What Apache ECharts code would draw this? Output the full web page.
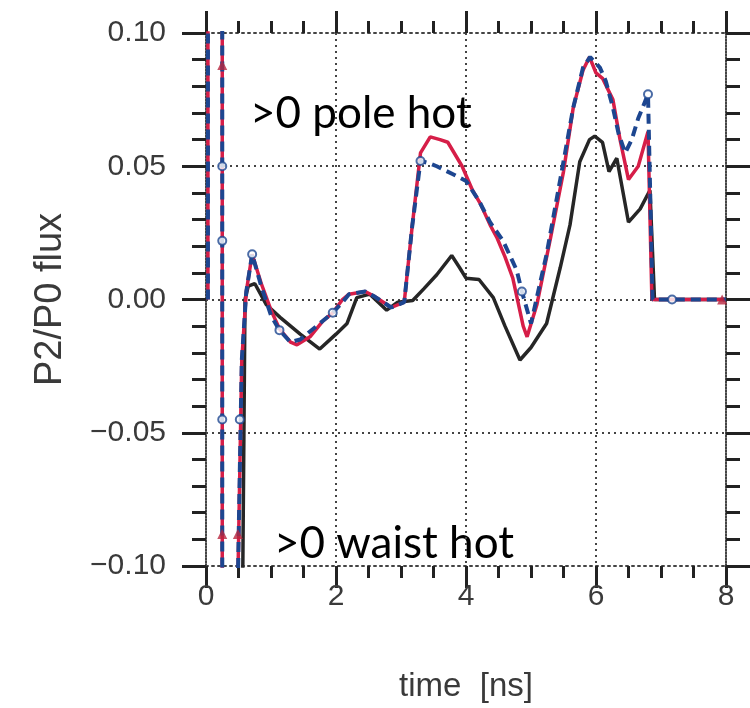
<!DOCTYPE html>
<html>
<head>
    <meta charset="utf-8">
    <title></title>
    <style type="text/css">
        body { margin: 0; background: #fff; }
    </style>
</head>
<body>
<div id="main" style="width: 750px;height:708px;"></div>

<script type="text/javascript" src="https://cdn.jsdelivr.net/npm/echarts@6/dist/echarts.min.js"></script>
<script type="text/javascript">
    // time [ns] and P2/P0 flux, one pair of lists per curve
    var redT = [0.03, 0.03, 0.25, 0.25, 0.48, 0.55, 0.62, 0.71, 0.85, 1.0, 1.13, 1.3, 1.4, 1.6, 1.8, 1.95, 2.1, 2.2, 2.45, 2.6, 2.85, 3.05, 3.17, 3.3, 3.45, 3.6, 3.72, 3.94, 4.1, 4.22, 4.37, 4.48, 4.6, 4.72, 4.88, 4.94, 5.09, 5.3, 5.5, 5.65, 5.8, 5.9, 6.0, 6.1, 6.26, 6.37, 6.5, 6.65, 6.8, 6.86, 8.0];
    var redV = [0.0, 0.12, 0.12, -0.12, -0.12, -0.023, 0.003, 0.017, 0.006, -0.004, -0.011, -0.016, -0.017, -0.014, -0.008, -0.005, 0.0, 0.002, 0.003, 0.001, -0.003, -0.001, 0.027, 0.055, 0.061, 0.060, 0.059, 0.050, 0.041, 0.036, 0.028, 0.023, 0.016, 0.008, -0.010, -0.014, -0.002, 0.023, 0.048, 0.072, 0.086, 0.091, 0.085, 0.083, 0.075, 0.060, 0.045, 0.050, 0.063, 0.0, 0.0];

    var blueT = [0.03, 0.03, 0.25, 0.25, 0.48, 0.55, 0.62, 0.71, 0.85, 1.0, 1.13, 1.3, 1.45, 1.6, 1.8, 1.95, 2.1, 2.2, 2.45, 2.6, 2.85, 3.05, 3.17, 3.3, 3.45, 3.55, 3.8, 4.0, 4.2, 4.37, 4.57, 4.78, 4.86, 5.0, 5.24, 5.45, 5.65, 5.8, 5.91, 6.06, 6.15, 6.26, 6.35, 6.45, 6.55, 6.65, 6.8, 6.87, 8.0];
    var blueV = [0.0, 0.12, 0.12, -0.12, -0.12, -0.023, 0.003, 0.017, 0.005, -0.006, -0.0115, -0.016, -0.015, -0.012, -0.008, -0.005, -0.001, 0.002, 0.003, 0.001, -0.003, -0.001, 0.027, 0.052, 0.051, 0.050, 0.047, 0.0445, 0.037, 0.029, 0.022, 0.011, 0.003, -0.009, 0.017, 0.045, 0.072, 0.087, 0.091, 0.087, 0.082, 0.072, 0.062, 0.055, 0.060, 0.068, 0.077, 0.0, 0.0];

    var blackT = [0.56, 0.6, 0.65, 0.75, 0.93, 1.14, 1.45, 1.75, 2.0, 2.17, 2.32, 2.52, 2.65, 2.78, 2.95, 3.18, 3.35, 3.55, 3.78, 3.9, 4.0, 4.2, 4.42, 4.6, 4.83, 5.0, 5.24, 5.45, 5.6, 5.75, 5.9, 5.98, 6.1, 6.2, 6.32, 6.5, 6.68, 6.83, 6.9, 8.0];
    var blackV = [-0.12, 0.0, 0.005, 0.006, -0.002, -0.0067, -0.013, -0.0186, -0.013, -0.009, 0.0007, 0.002, -0.001, -0.004, -0.001, -0.0004, 0.004, 0.0093, 0.0165, 0.012, 0.008, 0.0075, 0.0007, -0.010, -0.0227, -0.018, -0.009, 0.012, 0.028, 0.0517, 0.060, 0.0613, 0.059, 0.048, 0.053, 0.029, 0.034, 0.041, 0.0, 0.0];

    // plot markers seen on the curves
    var redMarkT = [0.25, 0.25, 0.49, 7.94];
    var redMarkV = [0.088, -0.088, -0.088, 0.0];
    var blueMarkT = [0.25, 0.25, 0.25, 0.52, 0.71, 1.13, 1.95, 3.3, 4.86, 6.8, 7.17];
    var blueMarkV = [0.05, 0.022, -0.045, -0.045, 0.017, -0.0115, -0.005, 0.052, 0.003, 0.077, 0.0];

    var xTicks = [0, 8, 2];          // min, max, step
    var yTicks = [-0.10, 0.10, 0.05];

    function pairs(t, v) {
        var out = [];
        for (var i = 0; i < t.length; i++) out.push([t[i], v[i]]);
        return out;
    }

    var dotted = { color: '#444', width: 2, type: [2, 4] };
    var tickStyle = { color: '#222', width: 3 };
    var labelFont = { color: '#3a3a3a', fontSize: 30, fontFamily: 'Liberation Sans' };

    function frameX(pos, withLabels) {
        return {
            type: 'value', position: pos, min: xTicks[0], max: xTicks[1], interval: xTicks[2],
            axisLine: { show: true, onZero: false, lineStyle: dotted },
            axisTick: { show: true, inside: false, length: 22, lineStyle: tickStyle },
            minorTick: { show: true, splitNumber: 4, length: 12, lineStyle: tickStyle },
            axisLabel: withLabels ? Object.assign({ margin: 16 }, labelFont) : { show: false },
            splitLine: { show: withLabels, lineStyle: dotted }
        };
    }
    function frameY(pos, withLabels) {
        return {
            type: 'value', position: pos, min: yTicks[0], max: yTicks[1], interval: yTicks[2],
            axisLine: { show: true, onZero: false, lineStyle: dotted },
            axisTick: { show: true, inside: false, length: 24, lineStyle: tickStyle },
            minorTick: { show: true, splitNumber: 5, length: 14, lineStyle: tickStyle },
            axisLabel: withLabels ? Object.assign({
                margin: 40,
                formatter: function (v) {
                    var s = Math.abs(v).toFixed(2);
                    return v < -1e-9 ? '\u2212' + s : s;
                }
            }, labelFont) : { show: false },
            splitLine: { show: withLabels, lineStyle: dotted }
        };
    }

    var xBottom = frameX('bottom', true);
    xBottom.name = 'time  [ns]';
    xBottom.nameLocation = 'middle';
    xBottom.nameGap = 104;
    xBottom.nameTextStyle = { color: '#3a3a3a', fontSize: 33, fontFamily: 'Liberation Sans' };

    var yLeft = frameY('left', true);
    yLeft.name = 'P2/P0 flux';
    yLeft.nameLocation = 'middle';
    yLeft.nameGap = 136;
    yLeft.nameTextStyle = { color: '#3a3a3a', fontSize: 38, fontFamily: 'Liberation Sans' };

    var chart = echarts.init(document.getElementById('main'));
    chart.setOption({
        animation: false,
        backgroundColor: '#fff',
        grid: { left: 206, right: 24, top: 33, bottom: 138 },
        xAxis: [xBottom, frameX('top', false)],
        yAxis: [yLeft, frameY('right', false)],
        series: [
            {
                name: 'black', type: 'line', showSymbol: false, clip: true, z: 2,
                lineStyle: { color: '#262626', width: 3.5 },
                data: pairs(blackT, blackV)
            },
            {
                name: 'red', type: 'line', showSymbol: false, clip: true, z: 3,
                lineStyle: { color: '#d61e48', width: 3.5 },
                data: pairs(redT, redV)
            },
            {
                name: 'blue', type: 'line', showSymbol: false, clip: true, z: 4,
                lineStyle: { color: '#1d4690', width: 4, type: [10, 6] },
                data: pairs(blueT, blueV)
            },
            {
                name: 'red marks', type: 'scatter', z: 5, symbol: 'triangle', symbolSize: 10,
                itemStyle: { color: '#b8263f' },
                data: pairs(redMarkT, redMarkV)
            },
            {
                name: 'blue marks', type: 'scatter', z: 5, symbol: 'emptyCircle', symbolSize: 8,
                itemStyle: { color: '#1d4690', borderWidth: 2.5 },
                data: pairs(blueMarkT, blueMarkV)
            }
        ],
        graphic: [
            {
                type: 'group', z: 100,
                children: [
                    { type: 'rect', shape: { x: 227, y: 37, width: 252, height: 76 }, style: { fill: '#fff' } },
                    { type: 'text', x: 250, y: 92, style: { text: '>0 pole hot', font: '44px Lato', fill: '#000', textVerticalAlign: 'alphabetic' } },
                    { type: 'rect', shape: { x: 255, y: 467, width: 275, height: 80 }, style: { fill: '#fff' } },
                    { type: 'text', x: 274, y: 522, style: { text: '>0 waist hot', font: '44px Lato', fill: '#000', textVerticalAlign: 'alphabetic' } }
                ]
            }
        ]
    });
</script>

</body>
</html>
